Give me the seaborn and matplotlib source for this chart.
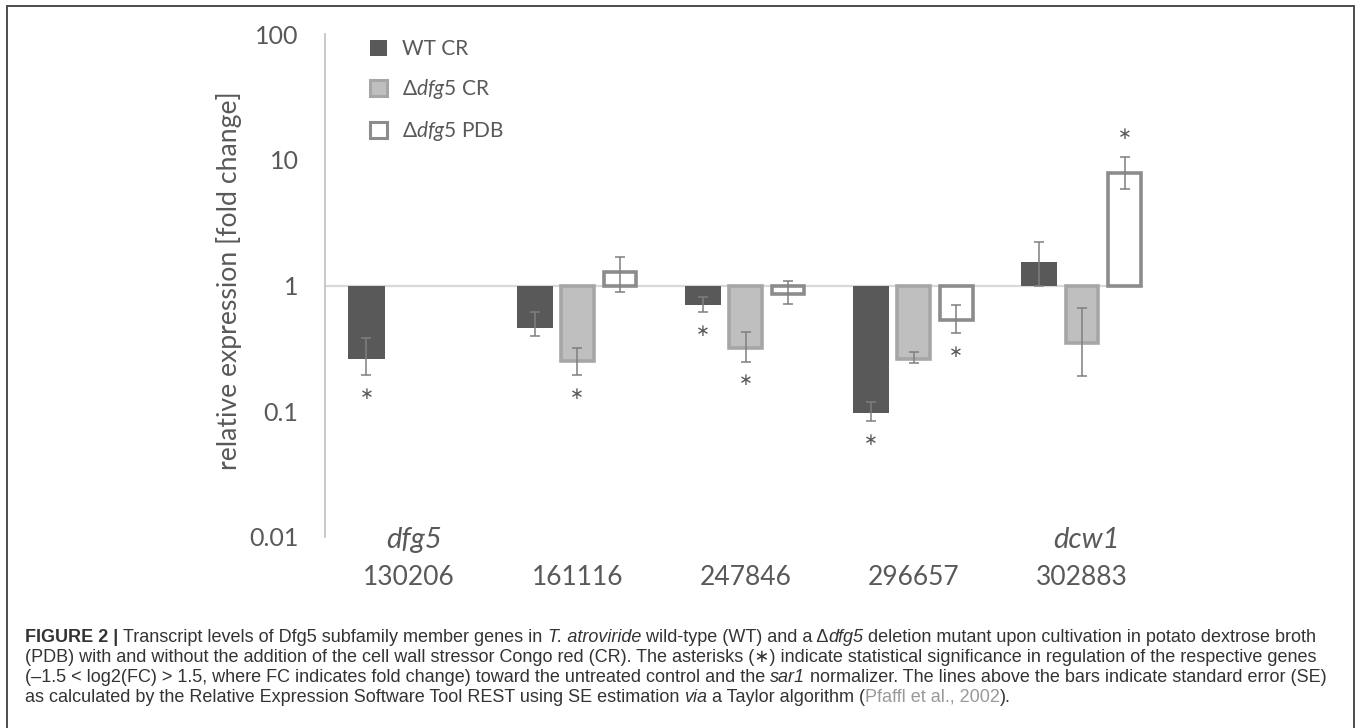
import matplotlib
matplotlib.use('Agg')
import matplotlib.pyplot as plt
import matplotlib.patches as mpatches
import seaborn as sns
import numpy as np
import pandas as pd

# genes on the x axis, gene names shown above two of them
genes = ['130206', '161116', '247846', '296657', '302883']
gene_names = ['dfg5', '', '', '', 'dcw1']
conditions = ['WT CR', 'dfg5 CR', 'dfg5 PDB']
legend_labels = ['WT CR', r'$\mathit{\Delta dfg5}$ CR', r'$\mathit{\Delta dfg5}$ PDB']

wt_cr = [0.26, 0.46, 0.70, 0.097, 1.55]
wt_cr_lo = [0.193, 0.394, 0.613, 0.083, 1.0]
wt_cr_hi = [0.38, 0.62, 0.815, 0.118, 2.2]
wt_cr_sig = [True, False, True, True, False]

ko_cr = [np.nan, 0.25, 0.32, 0.26, 0.35]
ko_cr_lo = [np.nan, 0.193, 0.248, 0.24, 0.19]
ko_cr_hi = [np.nan, 0.316, 0.424, 0.295, 0.668]
ko_cr_sig = [False, True, True, False, False]

ko_pdb = [np.nan, 1.27, 0.86, 0.53, 7.9]
ko_pdb_lo = [np.nan, 0.88, 0.71, 0.417, 5.8]
ko_pdb_hi = [np.nan, 1.70, 1.08, 0.70, 10.6]
ko_pdb_sig = [False, False, False, True, True]

yticks = [0.01, 0.1, 1, 10, 100]
ytick_labels = ['0.01', '0.1', '1', '10', '100']

series = {
    'WT CR': (wt_cr, wt_cr_lo, wt_cr_hi, wt_cr_sig),
    'dfg5 CR': (ko_cr, ko_cr_lo, ko_cr_hi, ko_cr_sig),
    'dfg5 PDB': (ko_pdb, ko_pdb_lo, ko_pdb_hi, ko_pdb_sig),
}

rows = []
for cond, (vals, lo, hi, sig) in series.items():
    for g, v, l, h, s in zip(genes, vals, lo, hi, sig):
        rows.append(dict(gene=g, condition=cond, fc=v, lo=l, hi=h, sig=s))
df = pd.DataFrame(rows)
# bars cross the axis at 1 -> draw in log10 units
df['log_fc'] = np.log10(df['fc'])

sns.set_style('white')
plt.rcParams['font.family'] = ['Lato', 'DejaVu Sans']
plt.rcParams['mathtext.fontset'] = 'custom'
plt.rcParams['mathtext.rm'] = 'Lato'
plt.rcParams['mathtext.it'] = 'Lato:italic'

W, H = 1358, 728
fig = plt.figure(figsize=(W / 100, H / 100), dpi=100)
ax = fig.add_axes([325 / W, 1 - 537 / H, 841 / W, 503 / H])

sns.barplot(data=df, x='gene', y='log_fc', hue='condition', order=genes,
            hue_order=conditions, width=0.76, gap=0.15, errorbar=None,
            legend=False, ax=ax, zorder=2)

styles = {
    'WT CR': dict(facecolor='#595959', edgecolor='#595959', linewidth=0),
    'dfg5 CR': dict(facecolor='#bfbfbf', edgecolor='#a6a6a6', linewidth=2.6),
    'dfg5 PDB': dict(facecolor='white', edgecolor='#8c8c8c', linewidth=2.6),
}
px_per_unit = 841 / 5
err_color = '#7f7f7f'
for cond, cont in zip(conditions, ax.containers):
    st = styles[cond]
    shrink = st['linewidth'] * 100 / 72 / px_per_unit
    sub = df[df['condition'] == cond].dropna(subset=['fc'])
    for patch, (_, r) in zip(cont.patches, sub.iterrows()):
        patch.set(**st)
        cx = patch.get_x() + patch.get_width() / 2
        w = patch.get_width() - shrink
        patch.set_width(w)
        patch.set_x(cx - w / 2)
        y = np.log10(r['fc'])
        ax.errorbar(cx, y, yerr=[[y - np.log10(r['lo'])], [np.log10(r['hi']) - y]],
                    fmt='none', ecolor=err_color, elinewidth=1.1, capsize=3.3,
                    capthick=1.1, zorder=3)
        if r['sig']:
            if r['fc'] < 1:
                ypos, off = np.log10(r['lo']), -13.5
            else:
                ypos, off = np.log10(r['hi']), 16
            ax.annotate('\u2217', xy=(cx, ypos), xytext=(0, off), textcoords='offset points',
                        ha='center', va='center', fontsize=12, color='#595959',
                        family='DejaVu Sans')

ax.axhline(0, xmax=0.972, color='#d9d9d9', lw=1.6, zorder=1)
ax.set_xlim(-0.5, 4.5)
ax.set_ylim(-2, 2)
ax.set_yticks(np.log10(yticks))
ax.set_yticklabels(ytick_labels)
ax.set_xticks(range(len(genes)))
ax.set_xticklabels(genes)
ax.set_xlabel('')
ax.set_ylabel('')
for s in ['top', 'right', 'bottom']:
    ax.spines[s].set_visible(False)
ax.spines['left'].set_color('#bfbfbf')
ax.spines['left'].set_linewidth(1.2)
ax.tick_params(axis='y', direction='in', length=6, width=1.2, color='#bfbfbf',
               labelcolor='#595959', labelsize=18, pad=19)
ax.tick_params(axis='x', length=0, labelcolor='#595959', labelsize=19, pad=20)

for i, name in enumerate(gene_names):
    if name:
        ax.text(i + 0.03, -2.02, name, ha='center', va='center', fontsize=21,
                fontstyle='italic', color='#595959')

fig.text(229 / W, 1 - 281 / H, 'relative expression [fold change]', rotation=90,
         ha='center', va='center', fontsize=19.2, color='#595959')

handles = [mpatches.Patch(**styles[c]) for c in conditions]
handles[1].set_linewidth(2.2)
handles[2].set_linewidth(2.2)
fig.legend(handles, legend_labels, loc='upper left', bbox_to_anchor=(370 / W, 1 - 39 / H),
           frameon=False, fontsize=15, handlelength=0.8, handleheight=0.8,
           handletextpad=0.75, labelspacing=0.87, borderpad=0, borderaxespad=0,
           labelcolor='#595959')

# outer frame of the figure panel
fig.add_artist(mpatches.Rectangle((7 / W, -0.05), (1354 - 7) / W, 1.05 - 6 / H,
                                  transform=fig.transFigure, fill=False,
                                  edgecolor='#4d4d4d', linewidth=1.4))

# caption
renderer = fig.canvas.get_renderer()
cap_fs = 13
cap_family = ['Liberation Sans', 'DejaVu Sans']


def text_width(s, **kw):
    a = fig.text(0, 0, s + '|', fontsize=cap_fs, family=cap_family, **kw)
    b = fig.text(0, 0, '|', fontsize=cap_fs, family=cap_family, **kw)
    w = a.get_window_extent(renderer).width - b.get_window_extent(renderer).width
    a.remove()
    b.remove()
    return w


def caption_line(y_px, runs):
    x = 25
    for s, kw in runs:
        opts = dict(fontweight=kw.get('weight', 'normal'), fontstyle=kw.get('style', 'normal'))
        fig.text(x / W, 1 - y_px / H, s, ha='left', va='center', fontsize=cap_fs,
                 family=cap_family, color=kw.get('color', '#333333'), **opts)
        x += text_width(s, **opts)


B = dict(weight='bold')
I = dict(style='italic')
caption_line(638, [('FIGURE 2 | ', B),
                   ('Transcript levels of Dfg5 subfamily member genes in ', {}),
                   ('T. atroviride', I),
                   (' wild-type (WT) and a \u0394', {}), ('dfg5', I),
                   (' deletion mutant upon cultivation in potato dextrose broth', {})])
caption_line(658, [('(PDB) with and without the addition of the cell wall stressor Congo red (CR). '
                    'The asterisks (\u2217) indicate statistical significance in regulation of the respective genes', {})])
caption_line(677, [('(\u20131.5 < log2(FC) > 1.5, where FC indicates fold change) toward the untreated control and the ', {}),
                   ('sar1', I),
                   (' normalizer. The lines above the bars indicate standard error (SE)', {})])
caption_line(697, [('as calculated by the Relative Expression Software Tool REST using SE estimation ', {}),
                   ('via', I), (' a Taylor algorithm (', {}),
                   ('Pfaffl et al., 2002', dict(color='#999999')), (').', {})])

fig.savefig('out.png', dpi=100)
